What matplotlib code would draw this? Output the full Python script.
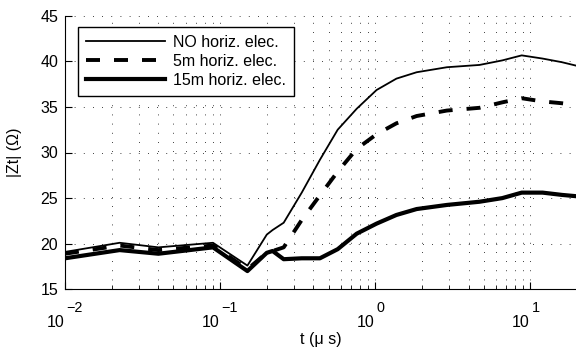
import matplotlib
matplotlib.use("Agg")
import matplotlib.pyplot as plt
from matplotlib.ticker import LogLocator, NullFormatter, FixedLocator

plt.rcParams['font.family'] = ['Liberation Sans', 'DejaVu Sans']

# time samples (microseconds)
t_us = [0.01, 0.0225, 0.04, 0.09, 0.15, 0.2, 0.218, 0.257, 0.336, 0.44,
        0.573, 0.76, 1.02, 1.37, 1.85, 2.9, 4.7, 6.6, 8.8, 12.0, 16.0, 20.0]

# transient impedance magnitude |Zt| (ohm)
z_no_horiz = [19.1, 20.1, 19.6, 20.1, 17.6, 21.0, 21.5, 22.3, 25.6, 29.2,
              32.5, 34.8, 36.85, 38.1, 38.8, 39.35, 39.6, 40.1, 40.65, 40.3, 39.9, 39.5]
z_5m_horiz = [18.9, 19.8, 19.3, 19.8, 17.2, 19.0, 19.2, 19.6, 22.6, 25.3,
              27.9, 30.4, 32.0, 33.2, 34.0, 34.6, 34.9, 35.5, 35.95, 35.6, 35.4, 35.2]
z_15m_horiz = [18.4, 19.3, 18.9, 19.6, 17.0, 19.0, 19.2, 18.3, 18.4, 18.4,
               19.4, 21.1, 22.2, 23.15, 23.8, 24.25, 24.6, 25.0, 25.6, 25.6, 25.35, 25.2]

labels = ["NO horiz. elec.", "5m horiz. elec.", "15m horiz. elec."]
y_ticks = [15, 20, 25, 30, 35, 40, 45]
x_decades = [-2, -1, 0, 1]

FS = 11.5

fig = plt.figure(figsize=(5.76, 3.55), dpi=100)
ax = fig.add_axes([65 / 576, 1 - 289.3 / 355, 512 / 576, 273.6 / 355])

ax.plot(t_us, z_no_horiz, color='k', lw=1.3, label=labels[0])
ax.plot(t_us, z_5m_horiz, color='k', lw=2.8, ls=(0, (3.6, 3.6)),
        dash_capstyle='butt', label=labels[1])
ax.plot(t_us, z_15m_horiz, color='k', lw=3.0, label=labels[2])

ax.set_xscale('log')
ax.set_xlim(0.01, 20)
ax.set_ylim(15, 45)
ax.yaxis.set_major_locator(FixedLocator(y_ticks))
ax.xaxis.set_major_locator(FixedLocator([10.0 ** d for d in x_decades]))
ax.xaxis.set_minor_locator(LogLocator(base=10, subs=range(2, 10)))
ax.xaxis.set_major_formatter(NullFormatter())
ax.xaxis.set_minor_formatter(NullFormatter())

grid_style = dict(color='k', lw=0.6, ls=(0, (1, 10)))
ax.grid(True, which='both', axis='x', **grid_style)
ax.grid(True, which='major', axis='y', **grid_style)

for side in ('top', 'right'):
    ax.spines[side].set_visible(False)
for side in ('left', 'bottom'):
    ax.spines[side].set_linewidth(0.8)

ax.tick_params(which='major', direction='in', length=5, width=0.8,
               labelsize=FS, top=False, right=False, pad=5)
ax.tick_params(which='minor', direction='in', length=3, width=0.6,
               top=False, right=False)

# decade labels: base "10" with a raised exponent to its right
for d in x_decades:
    v = 10.0 ** d
    ax.annotate('10', xy=(v, 0), xycoords=('data', 'axes fraction'),
                xytext=(-0.5, -27.0), textcoords='offset points',
                ha='right', va='baseline', fontsize=FS)
    ax.annotate(str(d).replace('-', '\u2212'), xy=(v, 0),
                xycoords=('data', 'axes fraction'),
                xytext=(0.8, -16.3), textcoords='offset points',
                ha='left', va='baseline', fontsize=FS * 0.9)

ax.set_xlabel('t (\u03bc s)', fontsize=FS, labelpad=26)
ax.set_ylabel('|Zt| (\u03a9)', fontsize=FS, labelpad=13)

leg = ax.legend(loc='upper left', bbox_to_anchor=(0.0254, 0.9587), borderaxespad=0,
                fontsize=FS, handlelength=4.95, handletextpad=0.5,
                labelspacing=0.25, borderpad=0.5, fancybox=False,
                edgecolor='k', framealpha=1)
leg.get_frame().set_linewidth(1.0)

fig.savefig('out.png', dpi=100)
